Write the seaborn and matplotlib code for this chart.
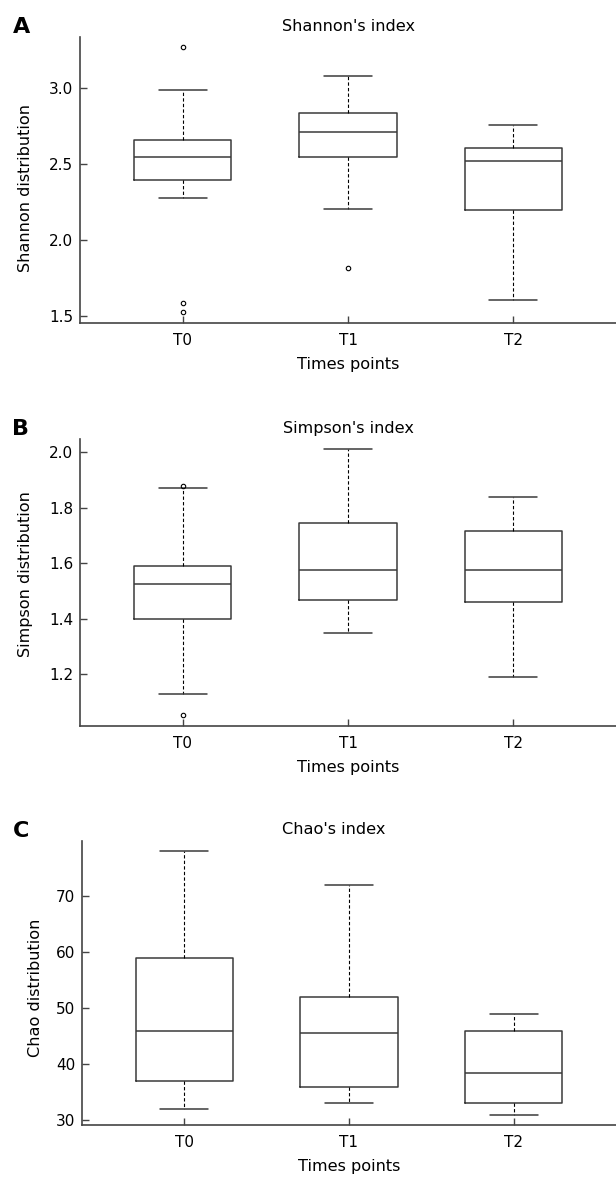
import matplotlib
matplotlib.use("Agg")
import matplotlib.pyplot as plt
import seaborn as sns

times = ["T0", "T1", "T2"]

shannon_med = [2.55, 2.71, 2.52]
shannon_q1 = [2.395, 2.545, 2.20]
shannon_q3 = [2.66, 2.84, 2.605]
shannon_lo = [2.28, 2.205, 1.605]
shannon_hi = [2.985, 3.08, 2.76]
shannon_out = [[3.27, 1.585, 1.525], [1.815], []]

simpson_med = [1.525, 1.575, 1.577]
simpson_q1 = [1.40, 1.466, 1.462]
simpson_q3 = [1.591, 1.746, 1.717]
simpson_lo = [1.13, 1.349, 1.19]
simpson_hi = [1.869, 2.01, 1.839]
simpson_out = [[1.878, 1.054], [], []]

chao_med = [46.0, 45.5, 38.5]
chao_q1 = [37.0, 36.0, 33.0]
chao_q3 = [59.0, 52.0, 46.0]
chao_lo = [32.0, 33.0, 31.0]
chao_hi = [78.0, 72.0, 49.0]
chao_out = [[], [], []]

sns.set_style("ticks")
plt.rcParams['font.family'] = ['DejaVu Sans']
plt.rcParams['text.color'] = 'black'
plt.rcParams['axes.labelcolor'] = 'black'

LINE = '#3a3a3a'


def draw_panel(ax, med, q1, q3, lo, hi, out, title, ylabel, yticks, fmt, ylim,
               letter, title_x=0.5, ylab_xy=(-0.087, 0.5), letter_x=-0.109):
    stats = []
    for i in range(len(times)):
        stats.append(dict(med=med[i], q1=q1[i], q3=q3[i], whislo=lo[i],
                          whishi=hi[i], fliers=out[i], label=times[i]))
    ax.bxp(stats, positions=range(len(times)), widths=0.59, capwidths=0.29,
           showfliers=True, patch_artist=False,
           boxprops=dict(color=LINE, linewidth=1.1),
           medianprops=dict(color=LINE, linewidth=1.1),
           whiskerprops=dict(color='black', linewidth=0.8, linestyle=(0, (3, 2))),
           capprops=dict(color=LINE, linewidth=1.1),
           flierprops=dict(marker='o', markersize=3.2, markerfacecolor='none',
                           markeredgecolor='black', markeredgewidth=0.8))
    ax.set_xlim(-0.62, 2.62)
    ax.set_ylim(*ylim)
    ax.set_yticks(yticks)
    ax.set_yticklabels([fmt.format(v) for v in yticks])
    sns.despine(ax=ax)
    for side in ['left', 'bottom']:
        ax.spines[side].set_color('#444444')
        ax.spines[side].set_linewidth(1.2)
    ax.tick_params(axis='both', direction='in', length=5, width=1.0,
                   color='#444444', labelsize=11, labelcolor='black',
                   bottom=True, left=True)
    ax.tick_params(axis='x', pad=7)
    ax.tick_params(axis='y', pad=4.8)
    ax.set_title(title, fontsize=11.6, pad=4.5, x=title_x, color='black')
    ax.set_xlabel("Times points", fontsize=11.6, labelpad=7)
    ax.set_ylabel(ylabel, fontsize=11.6)
    ax.yaxis.set_label_coords(*ylab_xy)
    ax.text(letter_x, 1.035, letter, transform=ax.transAxes, fontsize=16,
            fontweight='bold', ha='center', va='center', color='black')


fig = plt.figure(figsize=(6.16, 11.77), dpi=100)
ax_a = fig.add_axes([0.130, 0.7256, 0.870, 0.243])
ax_b = fig.add_axes([0.130, 0.3832, 0.870, 0.2436])
ax_c = fig.add_axes([0.133, 0.0442, 0.867, 0.2415])

draw_panel(ax_a, shannon_med, shannon_q1, shannon_q3, shannon_lo, shannon_hi,
           shannon_out, "Shannon's index", "Shannon distribution",
           [1.5, 2.0, 2.5, 3.0], "{:.1f}", (1.456, 3.337), "A",
           ylab_xy=(-0.087, 0.472))
draw_panel(ax_b, simpson_med, simpson_q1, simpson_q3, simpson_lo, simpson_hi,
           simpson_out, "Simpson's index", "Simpson distribution",
           [1.2, 1.4, 1.6, 1.8, 2.0], "{:.1f}", (1.014, 2.046), "B",
           ylab_xy=(-0.087, 0.53), letter_x=-0.112)
draw_panel(ax_c, chao_med, chao_q1, chao_q3, chao_lo, chao_hi,
           chao_out, "Chao's index", "Chao distribution",
           [30, 40, 50, 60, 70], "{:.0f}", (29.17, 79.85), "C",
           title_x=0.472, ylab_xy=(-0.073, 0.484), letter_x=-0.114)

fig.savefig("out.png", dpi=100)
